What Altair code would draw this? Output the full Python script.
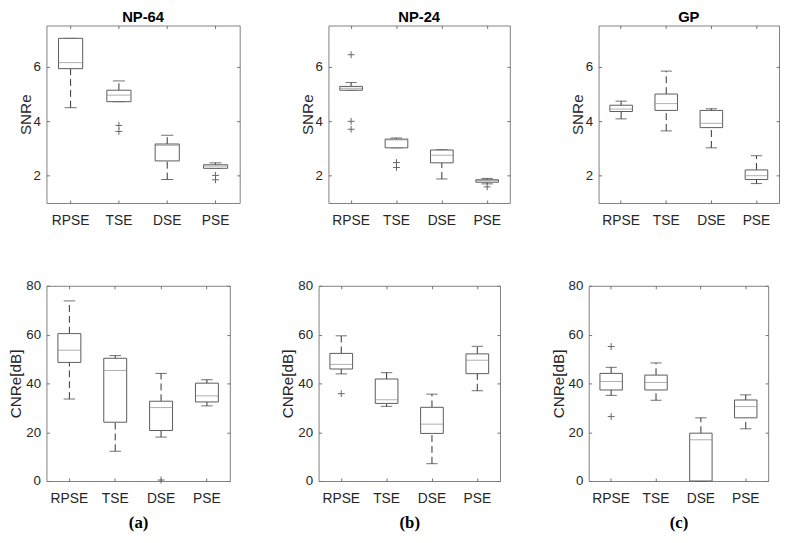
import altair as alt
import pandas as pd

methods = ["RPSE", "TSE", "DSE", "PSE"]

# rows: lower whisker, Q1, median, Q3, upper whisker (one value per method)
np64_snre = [
    [4.49, 4.71, 1.86, 2.27],
    [5.92, 4.71, 2.54, 2.27],
    [6.14, 4.95, 3.11, 2.35],
    [7.03, 5.13, 3.16, 2.40],
    [7.03, 5.47, 3.48, 2.47],
]
np64_snre_out_m = ["TSE", "TSE", "PSE", "PSE"]
np64_snre_out_v = [3.84, 3.62, 2.01, 1.85]

np24_snre = [
    [5.13, 3.02, 1.88, 1.70],
    [5.13, 3.02, 2.47, 1.76],
    [5.20, 3.31, 2.75, 1.82],
    [5.27, 3.34, 2.94, 1.85],
    [5.41, 3.38, 2.95, 1.90],
]
np24_snre_out_m = ["RPSE", "RPSE", "RPSE", "TSE", "TSE", "PSE"]
np24_snre_out_v = [6.43, 3.99, 3.70, 2.48, 2.30, 1.59]

gp_snre = [
    [4.08, 3.64, 3.02, 1.71],
    [4.35, 4.39, 3.76, 1.86],
    [4.44, 4.64, 3.92, 2.00],
    [4.58, 4.99, 4.39, 2.21],
    [4.73, 5.83, 4.45, 2.73],
]
gp_snre_out_m = []
gp_snre_out_v = []

np64_cnre = [
    [33.6, 12.2, 18.0, 30.8],
    [48.6, 24.1, 20.7, 32.4],
    [53.6, 45.3, 30.1, 34.9],
    [60.4, 50.3, 32.7, 40.1],
    [73.8, 51.4, 44.1, 41.5],
]
np64_cnre_out_m = ["DSE"]
np64_cnre_out_v = [0.4]

np24_cnre = [
    [43.9, 30.6, 7.1, 37.0],
    [45.9, 31.8, 19.5, 44.0],
    [47.8, 33.3, 23.3, 49.5],
    [52.3, 41.8, 30.2, 52.1],
    [59.5, 44.4, 35.6, 55.2],
]
np24_cnre_out_m = ["RPSE"]
np24_cnre_out_v = [35.8]

gp_cnre = [
    [35.1, 33.1, 0.0, 21.4],
    [37.3, 37.3, 0.0, 25.9],
    [40.8, 40.4, 16.9, 30.5],
    [44.1, 43.4, 19.6, 33.2],
    [46.6, 48.4, 25.9, 35.3],
]
gp_cnre_out_m = ["RPSE", "RPSE"]
gp_cnre_out_v = [55.1, 26.4]

snre_ticks = [2, 4, 6]
cnre_ticks = [0, 20, 40, 60, 80]

FRAME = "#7f7f7f"
TICK = "#6f6f6f"
TEXT = "#262626"
SANS = "Liberation Sans"


def panel(stats, out_m, out_v, width, height, ydom, yticks, ytitle,
          title=None, xtitle=None, ext_y=16, tp_y=0):
    df = pd.DataFrame({"method": methods, "lo": stats[0], "q1": stats[1],
                       "med": stats[2], "q3": stats[3], "hi": stats[4]})
    wrows = []
    for m, lo, q1, q3, hi in zip(methods, stats[0], stats[1], stats[3], stats[4]):
        if hi > q3:
            wrows.append({"method": m, "a": q3, "b": hi})
        if lo < q1:
            wrows.append({"method": m, "a": lo, "b": q1})
    wdf = pd.DataFrame(wrows, columns=["method", "a", "b"])
    cdf = pd.DataFrame({"method": methods * 2, "v": list(stats[0]) + list(stats[4])})
    odf = pd.DataFrame({"method": out_m, "v": out_v})

    bw = width / 4.0
    xsc = alt.Scale(domain=methods, paddingInner=0, paddingOuter=0)
    ysc = alt.Scale(domain=ydom, nice=False, zero=False)

    left_axis = alt.Axis(orient="left", values=yticks, domain=False, grid=False,
                         ticks=True, tickSize=3, tickColor=TICK, offset=-3,
                         labelPadding=6, labelFont=SANS, labelFontSize=13.5,
                         labelColor=TEXT, format="d",
                         title=ytitle, titleFont=SANS, titleFontSize=15.5,
                         titleFontWeight="normal", titleColor=TEXT,
                         titlePadding=tp_y, minExtent=ext_y, maxExtent=ext_y)
    right_axis = alt.Axis(orient="right", values=yticks, domain=False, grid=False,
                          ticks=True, tickSize=3, tickColor=TICK, offset=-3,
                          labels=False, title=None, minExtent=0, maxExtent=0)
    bx = dict(orient="bottom", domain=False, grid=False, ticks=True, tickSize=3,
              tickColor=TICK, offset=-3, labelPadding=11, labelAngle=0,
              labelFont=SANS, labelFontSize=14, labelColor=TEXT,
              minExtent=27, maxExtent=27)
    if xtitle:
        bx.update(title=xtitle, titleFont="Liberation Serif", titleFontSize=17,
                  titleFontWeight="bold", titleColor="black", titlePadding=10)
    else:
        bx.update(title=None)
    bottom_axis = alt.Axis(**bx)
    top_axis = alt.Axis(orient="top", domain=False, grid=False, ticks=True,
                        tickSize=3, tickColor=TICK, offset=-3, labels=False,
                        title=None, minExtent=0, maxExtent=0)

    whisk = alt.Chart(wdf).mark_rule(color="#333333", strokeWidth=1,
                                     strokeDash=[7, 4]).encode(
        x=alt.X("method:N", scale=xsc, sort=methods, axis=top_axis),
        y=alt.Y("a:Q", scale=ysc, axis=right_axis),
        y2="b:Q",
    )
    caps = alt.Chart(cdf).mark_tick(color="#333333", thickness=1,
                                    size=bw * 0.25).encode(
        x=alt.X("method:N", scale=xsc, sort=methods, axis=None),
        y=alt.Y("v:Q", scale=ysc, axis=None),
    )
    box = alt.Chart(df).mark_bar(fill="white", stroke="#5a5a5a", strokeWidth=1,
                                 width=alt.RelativeBandSize(0.5)).encode(
        x=alt.X("method:N", scale=xsc, sort=methods, axis=bottom_axis),
        y=alt.Y("q1:Q", scale=ysc, axis=left_axis),
        y2="q3:Q",
    )
    med = alt.Chart(df).mark_tick(color="#8c8c8c", thickness=1,
                                  size=bw * 0.5).encode(
        x=alt.X("method:N", scale=xsc, sort=methods, axis=None),
        y=alt.Y("med:Q", scale=ysc, axis=None),
    )
    layers = [whisk, caps, box, med]
    if len(odf):
        pts = alt.Chart(odf).mark_point(shape="M-1,0L1,0M0,-1L0,1", size=49,
                                        filled=False, strokeWidth=1,
                                        color="#666666", opacity=1).encode(
            x=alt.X("method:N", scale=xsc, sort=methods, axis=None),
            y=alt.Y("v:Q", scale=ysc, axis=None),
        )
        layers.append(pts)
    props = dict(width=width, height=height)
    if title:
        props["title"] = alt.TitleParams(text=title, font=SANS, fontSize=15,
                                         fontWeight="bold", color="black",
                                         offset=0, anchor="middle")
    return alt.layer(*layers).resolve_axis(x="independent", y="independent").properties(**props)


TOP_H = 180
BOT_H = 198

p1 = panel(np64_snre, np64_snre_out_m, np64_snre_out_v, 196, TOP_H, [1, 7.5],
           snre_ticks, "SNRe", title="NP-64", ext_y=16)
p2 = panel(np24_snre, np24_snre_out_m, np24_snre_out_v, 184, TOP_H, [1, 7.5],
           snre_ticks, "SNRe", title="NP-24", ext_y=16)
p3 = panel(gp_snre, gp_snre_out_m, gp_snre_out_v, 183, TOP_H, [1, 7.5],
           snre_ticks, "SNRe", title="GP", ext_y=16)

p4 = panel(np64_cnre, np64_cnre_out_m, np64_cnre_out_v, 186, BOT_H, [0, 80],
           cnre_ticks, "CNRe[dB]", xtitle="(a)", ext_y=26)
p5 = panel(np24_cnre, np24_cnre_out_m, np24_cnre_out_v, 184, BOT_H, [0, 80],
           cnre_ticks, "CNRe[dB]", xtitle="(b)", ext_y=26)
p6 = panel(gp_cnre, gp_cnre_out_m, gp_cnre_out_v, 182, BOT_H, [0, 80],
           cnre_ticks, "CNRe[dB]", xtitle="(c)", ext_y=26)

top_row = alt.hconcat(p1, p2, p3, spacing=60)
bottom_row = alt.hconcat(p4, p5, p6, spacing=50)

chart = alt.vconcat(top_row, bottom_row, spacing=50).properties(
    padding={"left": 0, "top": -2, "right": 0, "bottom": 0}, background="white"
).configure_view(stroke=FRAME, strokeWidth=1)

chart.save("out.html", embed_options={"renderer": "svg", "actions": False})
